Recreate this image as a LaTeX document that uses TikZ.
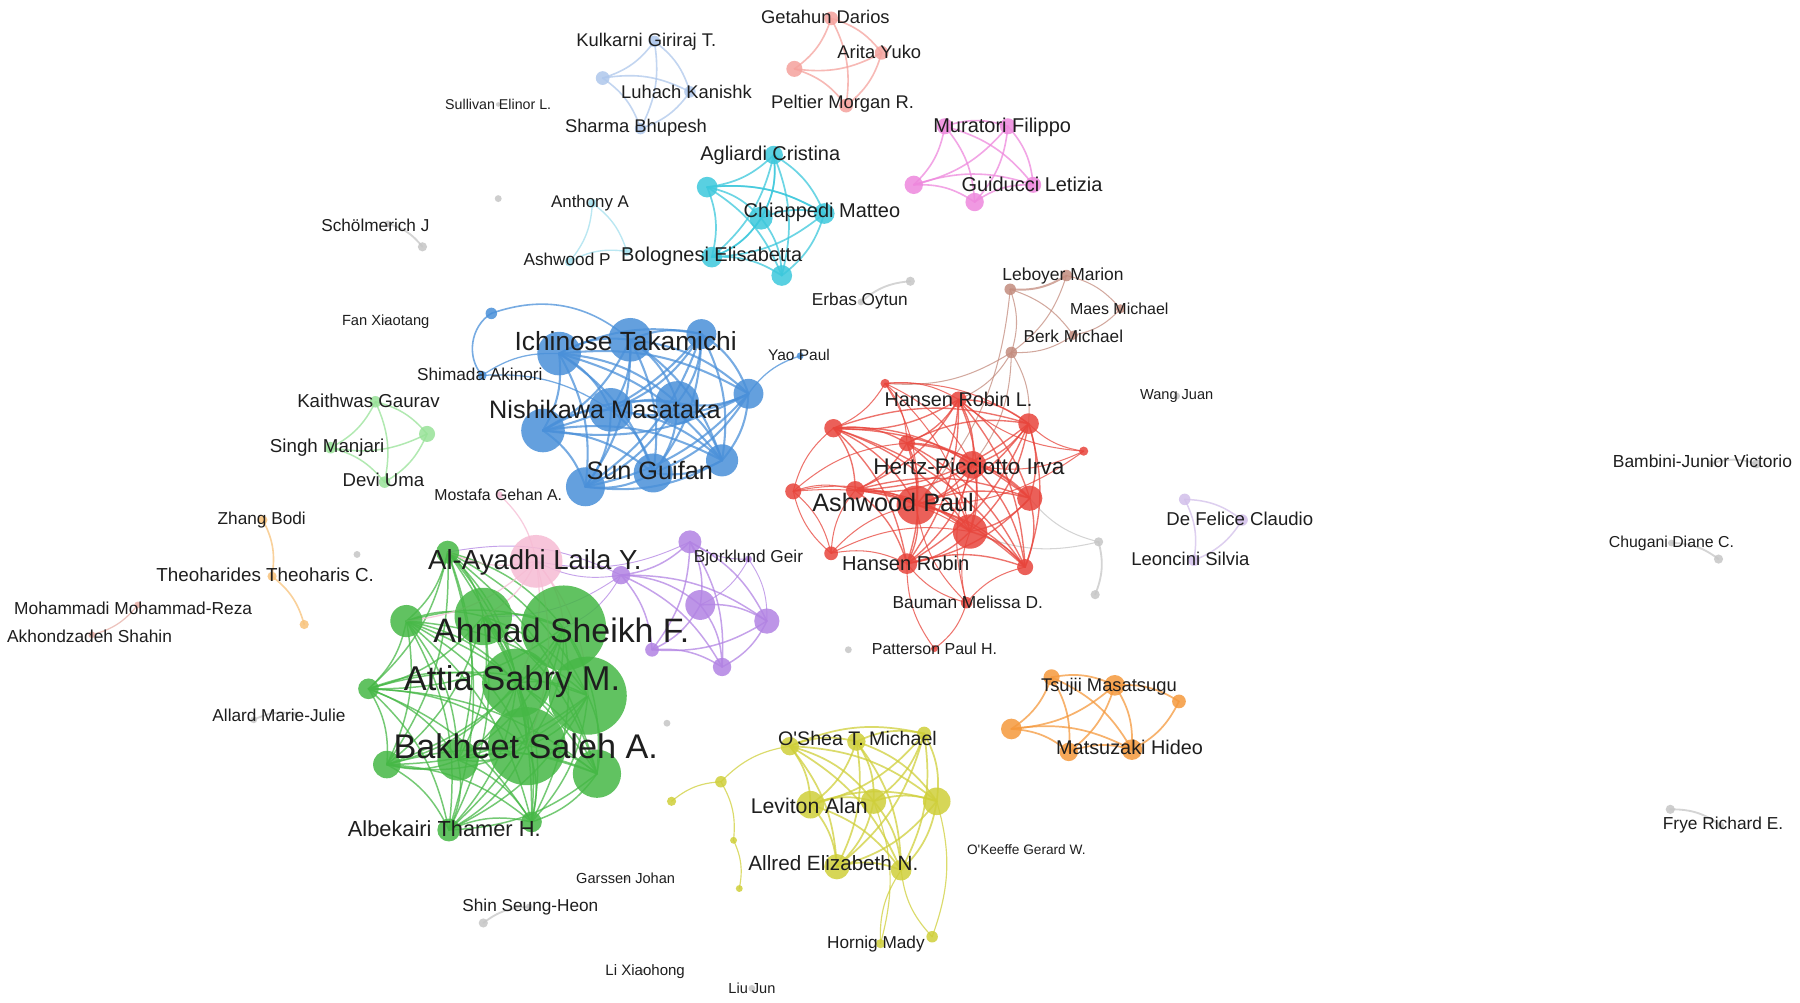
\documentclass[tikz,border=0pt]{standalone}
\usepackage{fontspec}
\newfontfamily\labfont{Liberation Sans}
\pgfdeclarelayer{bg}
\pgfdeclarelayer{edges}
\pgfdeclarelayer{labels}
\pgfsetlayers{bg,edges,main,labels}
\definecolor{cgreen}{HTML}{46B846}
\definecolor{cblue}{HTML}{4A90D9}
\definecolor{cred}{HTML}{E8453C}
\definecolor{ccyan}{HTML}{3CC8DC}
\definecolor{clblue}{HTML}{AEC7EC}
\definecolor{csalmon}{HTML}{F5A29D}
\definecolor{cpink}{HTML}{EE88DD}
\definecolor{cbrown}{HTML}{C38C7E}
\definecolor{cpurple}{HTML}{B283E3}
\definecolor{clpurple}{HTML}{D2BFEA}
\definecolor{cyellow}{HTML}{CFCF3A}
\definecolor{corange}{HTML}{F5993D}
\definecolor{clorange}{HTML}{F8C27A}
\definecolor{clgreen}{HTML}{98E298}
\definecolor{clpink}{HTML}{F6BCD4}
\definecolor{cgray}{HTML}{C6C6C6}
\definecolor{clcyan}{HTML}{A3E0EE}
\definecolor{cmoh}{HTML}{E8B0A8}
\definecolor{textc}{HTML}{1E1E1E}
\tikzset{
  dot/.style 2 args={circle,inner sep=0pt,draw=none,fill=#1,fill opacity=0.85,minimum size=#2*2pt},
  lab/.style={font=\labfont\fontsize{#1}{#1}\selectfont,text=textc,inner sep=0pt},
  ed/.style 2 args={draw=#1,draw opacity=0.75,line width=#2,line cap=round},
}
\newcommand\nd[5]{\node[dot={#2}{#5}] (#1) at (#3,#4) {};}
\newcommand\lb[5]{\node[lab=#4] (#1) at (#2,#3) {#5};}
\newcommand\clique[2]{%
  \foreach \u [count=\iu] in {#2}{%
    \foreach \v [count=\iv] in {#2}{%
      \ifnum\iv>\iu\relax \draw[#1] (\u.center) to[bend left=18] (\v.center);\fi}}}
\newcommand\edgelist[2]{\foreach \u/\v in {#2}{\draw[#1] (\u.center) to[bend left=18] (\v.center);}}
\begin{document}
\begin{tikzpicture}[x=1pt,y=-1pt]
\begin{pgfonlayer}{bg}
\fill[white] (0,0) rectangle (1568,873);
\end{pgfonlayer}
\useasboundingbox (0,0) rectangle (1568,873);

% ---------- salmon
\nd{s1}{csalmon}{724}{16}{6}
\nd{s2}{csalmon}{768}{46}{6}
\nd{s3}{csalmon}{692}{60}{7}
\nd{s4}{csalmon}{737}{92}{6}
% ---------- light blue
\nd{k1}{clblue}{570}{36}{5}
\nd{k2}{clblue}{525}{68}{6}
\nd{k3}{clblue}{601}{80}{5}
\nd{k4}{clblue}{558}{112}{5}
% ---------- cyan
\nd{c1}{ccyan}{674}{135}{8}
\nd{c2}{ccyan}{616}{163}{9}
\nd{c3}{ccyan}{663}{190}{10}
\nd{c4}{ccyan}{718}{186}{9}
\nd{c5}{ccyan}{620}{224}{9}
\nd{c6}{ccyan}{681}{240}{9}
% ---------- light cyan
\nd{a1}{clcyan}{516}{177}{4}
\nd{a2}{clcyan}{496}{228}{4}
\nd{a3}{clcyan}{546}{219}{4}
% ---------- pink (Muratori)
\nd{m1}{cpink}{823}{110}{7}
\nd{m2}{cpink}{878}{110}{7}
\nd{m3}{cpink}{796}{161}{8}
\nd{m4}{cpink}{849}{176}{8}
\nd{m5}{cpink}{900}{161}{7}
% ---------- gray singletons / pairs
\nd{g1}{cgray}{434}{173}{3}
\nd{g2}{cgray}{338}{195}{3}
\nd{g3}{cgray}{368}{215}{4}
\nd{g4}{cgray}{750}{263}{3}
\nd{g5}{cgray}{793}{245}{4}
\nd{g6}{cgray}{434}{91}{2}
\nd{g7}{cgray}{336}{280}{2}
\nd{g8}{cgray}{1025}{345}{3}
\nd{g9}{cgray}{957}{472}{4}
\nd{g10}{cgray}{954}{518}{4}
\nd{g11}{cgray}{739}{566}{3}
\nd{g12}{cgray}{311}{483}{3}
\nd{g13}{cgray}{581}{630}{3}
\nd{g14}{cgray}{1490}{404}{3}
\nd{g15}{cgray}{1530}{404}{4}
\nd{g16}{cgray}{1456}{473}{3}
\nd{g17}{cgray}{1497}{487}{4}
\nd{g18}{cgray}{1455}{705}{4}
\nd{g19}{cgray}{1499}{719}{3}
\nd{g20}{cgray}{421}{804}{4}
\nd{g21}{cgray}{461}{790}{3}
\nd{g22}{cgray}{221}{627}{3}
\nd{g23}{cgray}{258}{622}{2}
\nd{g24}{cgray}{545}{765}{2}
\nd{g25}{cgray}{560}{846}{2}
\nd{g26}{cgray}{655}{861}{3}
\nd{g27}{cgray}{894}{740}{2}
% ---------- brown
\nd{br1}{cbrown}{929}{240}{5}
\nd{br2}{cbrown}{880}{252}{5}
\nd{br3}{cbrown}{976}{269}{4}
\nd{br4}{cbrown}{935}{292}{4}
\nd{br5}{cbrown}{881}{307}{5}
% ---------- red
\nd{r1}{cred}{771}{334}{4}
\nd{r2}{cred}{835}{348}{7}
\nd{r3}{cred}{726}{373}{8}
\nd{r4}{cred}{790}{386}{7}
\nd{r5}{cred}{896}{369}{9}
\nd{r6}{cred}{944}{393}{4}
\nd{r7}{cred}{847}{405}{12}
\nd{r8}{cred}{691}{428}{7}
\nd{r9}{cred}{745}{427}{8}
\nd{r10}{cred}{798}{440}{17}
\nd{r11}{cred}{897}{434}{11}
\nd{r12}{cred}{845}{463}{15}
\nd{r13}{cred}{724}{482}{6}
\nd{r14}{cred}{790}{491}{9}
\nd{r15}{cred}{893}{494}{7}
\nd{r16}{cred}{842}{525}{5}
\nd{r17}{cred}{814}{565}{3}
% ---------- purple (Bjorklund)
\nd{p1}{cpurple}{601}{472}{10}
\nd{p2}{cpurple}{541}{501}{8}
\nd{p3}{cpurple}{610}{527}{13}
\nd{p4}{cpurple}{668}{541}{11}
\nd{p5}{cpurple}{568}{566}{6}
\nd{p6}{cpurple}{629}{581}{8}
\nd{p7}{cpurple}{652}{487}{3}
% ---------- light purple
\nd{d1}{clpurple}{1032}{435}{5}
\nd{d2}{clpurple}{1082}{453}{5}
\nd{d3}{clpurple}{1040}{488}{5}
% ---------- light green
\nd{lg1}{clgreen}{327}{350}{5}
\nd{lg2}{clgreen}{372}{378}{7}
\nd{lg3}{clgreen}{288}{390}{5}
\nd{lg4}{clgreen}{335}{420}{5}
% ---------- light orange
\nd{o1}{clorange}{229}{453}{4}
\nd{o2}{clorange}{237}{502}{4}
\nd{o3}{clorange}{265}{544}{4}
% ---------- Mohammadi pair
\nd{mh1}{cmoh}{120}{527}{3}
\nd{mh2}{cmoh}{80}{553}{3}
% ---------- green
\nd{gr1}{cgreen}{390}{481}{10}
\nd{gr2}{cgreen}{354}{541}{14}
\nd{gr3}{cgreen}{421}{537}{25}
\nd{gr4}{cgreen}{491}{547}{37}
\nd{gr5}{cgreen}{321}{600}{9}
\nd{gr6}{cgreen}{450}{595}{30}
\nd{gr7}{cgreen}{512}{606}{34}
\nd{gr8}{cgreen}{459}{650}{34}
\nd{gr9}{cgreen}{399}{662}{18}
\nd{gr10}{cgreen}{337}{666}{12}
\nd{gr11}{cgreen}{520}{674}{21}
\nd{gr12}{cgreen}{391}{723}{10}
\nd{gr13}{cgreen}{463}{716}{9}
% ---------- pink (Al-Ayadhi)
\nd{pk1}{clpink}{467}{489}{23}
\nd{pk2}{clpink}{435}{431}{3}
% ---------- yellow
\nd{y1}{cyellow}{688}{650}{8}
\nd{y2}{cyellow}{746}{646}{8}
\nd{y3}{cyellow}{805}{639}{6}
\nd{y4}{cyellow}{706}{701}{12}
\nd{y5}{cyellow}{761}{698}{11}
\nd{y6}{cyellow}{816}{698}{12}
\nd{y7}{cyellow}{729}{755}{11}
\nd{y8}{cyellow}{785}{758}{9}
\nd{y9}{cyellow}{812}{816}{5}
\nd{y10}{cyellow}{767}{822}{4}
\nd{y11}{cyellow}{628}{681}{5}
\nd{y12}{cyellow}{639}{732}{3}
\nd{y13}{cyellow}{644}{774}{3}
\nd{y14}{cyellow}{585}{698}{4}
% ---------- orange
\nd{or1}{corange}{916}{590}{7}
\nd{or2}{corange}{971}{597}{9}
\nd{or3}{corange}{1027}{611}{6}
\nd{or4}{corange}{881}{635}{9}
\nd{or5}{corange}{931}{655}{8}
\nd{or6}{corange}{986}{653}{9}
% ---------- blue
\nd{b1}{cblue}{428}{273}{5}
\nd{b2}{cblue}{487}{308}{19}
\nd{b3}{cblue}{549}{296}{19}
\nd{b4}{cblue}{611}{291}{13}
\nd{b5}{cblue}{652}{343}{13}
\nd{b6}{cblue}{697}{310}{3}
\nd{b7}{cblue}{473}{375}{19}
\nd{b8}{cblue}{532}{357}{19}
\nd{b9}{cblue}{590}{351}{19}
\nd{b10}{cblue}{629}{401}{14}
\nd{b11}{cblue}{569}{412}{17}
\nd{b12}{cblue}{510}{424}{17}
\nd{b13}{cblue}{420}{327}{4}

% ================= edges
\begin{pgfonlayer}{edges}
\clique{ed={csalmon}{1.4pt}}{s1,s2,s3,s4}
\clique{ed={clblue}{1.4pt}}{k1,k2,k3,k4}
\clique{ed={ccyan}{1.5pt}}{c1,c2,c3,c4,c5,c6}
\edgelist{ed={ccyan}{1.3pt}}{c2/c4,c3/c5,c1/c3}
\clique{ed={clcyan}{1.2pt}}{a1,a2,a3}
\clique{ed={cpink}{1.4pt}}{m1,m2,m3,m4,m5}
\edgelist{ed={cgray}{1.6pt}}{g2/g3,g4/g5,g9/g10,g14/g15,g16/g17,g18/g19,g20/g21,g22/g23}
\edgelist{ed={cgray}{0.9pt}}{g9/r12,g9/r11}
\edgelist{ed={cbrown}{1.7pt}}{br1/br2}
\edgelist{ed={cbrown}{0.9pt}}{br1/br3,br3/br4,br2/br4,br2/br5,br4/br5,br1/br5,br5/r1,br5/r2,br5/r5,br5/r7,br2/r10}
\clique{ed={cred}{1.2pt}}{r2,r3,r4,r5,r7,r9,r10,r11,r12,r14,r15}
\edgelist{ed={cred}{0.9pt}}{r1/r2,r1/r3,r1/r4,r1/r7,r1/r10,r1/r12,r1/r5,r6/r5,r6/r7,r6/r2,r6/r10,r8/r3,r8/r9,r8/r10,r8/r13,r8/r12,r8/r4,r13/r8,r13/r10,r13/r14,r13/r12,r13/r9,r16/r10,r16/r12,r16/r14,r16/r7,r16/r15,r16/r17,r17/r14}
\clique{ed={cpurple}{1.3pt}}{p1,p2,p3,p4,p5,p6}
\edgelist{ed={cpurple}{0.8pt}}{p7/p3,p7/p4,p7/p1,p2/pk1,p2/gr3,p2/gr4,p1/pk1,gr1/p2}
\clique{ed={clpurple}{1.3pt}}{d1,d2,d3}
\clique{ed={clgreen}{1.3pt}}{lg1,lg2,lg3,lg4}
\edgelist{ed={clorange}{1.4pt}}{o1/o2,o2/o3}
\edgelist{ed={cmoh}{1.1pt}}{mh1/mh2}
\clique{ed={cgreen}{1.3pt}}{gr1,gr2,gr3,gr4,gr5,gr6,gr7,gr8,gr9,gr10,gr11,gr12,gr13}
\edgelist{ed={clpink}{1.1pt}}{pk1/gr1,pk1/gr2,pk1/gr3,pk1/gr4,pk1/gr6,pk1/gr7,pk1/gr8,pk2/pk1}
\clique{ed={cyellow}{1.5pt}}{y1,y2,y3,y4,y5,y6,y7,y8}
\edgelist{ed={cyellow}{1.0pt}}{y9/y8,y6/y9,y10/y8,y5/y10,y11/y1,y14/y11,y11/y12,y12/y13}
\clique{ed={corange}{1.5pt}}{or1,or2,or4,or5,or6}
\edgelist{ed={corange}{1.5pt}}{or2/or3,or3/or6}
\clique{ed={cblue}{1.8pt}}{b2,b3,b4,b5,b7,b8,b9,b10,b11,b12}
\draw[ed={cblue}{1.4pt}] (b1.center) to[bend left=30] (b3.center);
\draw[ed={cblue}{1.4pt}] (b1.center) to[bend right=50] (b13.center);
\edgelist{ed={cblue}{1.1pt}}{b13/b2,b13/b8,b5/b6}
\end{pgfonlayer}

% ================= labels
\begin{pgfonlayer}{labels}
\lb{L1}{719}{15}{16}{Getahun Darios}
\lb{L2}{766}{45}{16}{Arita Yuko}
\lb{L3}{734}{90}{16}{Peltier Morgan R.}
\lb{L4}{563}{36}{16}{Kulkarni Giriraj T.}
\lb{L5}{598}{80}{16}{Luhach Kanishk}
\lb{L6}{554}{111}{16}{Sharma Bhupesh}
\lb{L7}{434}{91}{12.4}{Sullivan Elinor L.}
\lb{L8}{671}{135}{17.4}{Agliardi Cristina}
\lb{L9}{873}{111}{17.4}{Muratori Filippo}
\lb{L10}{899}{161}{17.4}{Guiducci Letizia}
\lb{L11}{716}{185}{17.4}{Chiappedi Matteo}
\lb{L12}{514}{177}{14.7}{Anthony A}
\lb{L13}{327}{196}{15}{Schölmerich J}
\lb{L14}{494}{226}{15}{Ashwood P}
\lb{L15}{620}{223}{17.4}{Bolognesi Elisabetta}
\lb{L16}{749}{262}{15}{Erbas Oytun}
\lb{L17}{926}{240}{15.2}{Leboyer Marion}
\lb{L18}{975}{269}{13.9}{Maes Michael}
\lb{L19}{935}{293}{15}{Berk Michael}
\lb{L20}{336}{280}{12.8}{Fan Xiaotang}
\lb{L21}{545}{297}{22.9}{Ichinose Takamichi}
\lb{L22}{418}{326}{15}{Shimada Akinori}
\lb{L23}{696}{309}{13.5}{Yao Paul}
\lb{L24}{527}{357}{22}{Nishikawa Masataka}
\lb{L25}{566}{410}{22}{Sun Guifan}
\lb{L26}{321}{349}{16.3}{Kaithwas Gaurav}
\lb{L27}{285}{390}{16.3}{Singh Manjari}
\lb{L28}{334}{418}{16.2}{Devi Uma}
\lb{L29}{434}{431}{13.8}{Mostafa Gehan A.}
\lb{L30}{835}{348}{17.3}{Hansen Robin L.}
\lb{L31}{1025}{345}{12.7}{Wang Juan}
\lb{L32}{844}{406}{19.7}{Hertz-Picciotto Irva}
\lb{L33}{778}{438}{22}{Ashwood Paul}
\lb{L34}{789}{491}{17.5}{Hansen Robin}
\lb{L35}{843}{525}{15.1}{Bauman Melissa D.}
\lb{L36}{814}{565}{13.9}{Patterson Paul H.}
\lb{L37}{1080}{452}{16.2}{De Felice Claudio}
\lb{L38}{1037}{487}{16.1}{Leoncini Silvia}
\lb{L39}{1483}{402}{15.2}{Bambini-Junior Victorio}
\lb{L40}{1456}{473}{13.8}{Chugani Diane C.}
\lb{L41}{1501}{719}{15.1}{Frye Richard E.}
\lb{L42}{228}{453}{15}{Zhang Bodi}
\lb{L43}{231}{501}{16.4}{Theoharides Theoharis C.}
\lb{L44}{116}{530}{15.1}{Mohammadi Mohammad-Reza}
\lb{L45}{78}{554}{15.1}{Akhondzadeh Shahin}
\lb{L46}{466}{490}{24}{Al-Ayadhi Laila Y.}
\lb{L47}{652}{486}{15}{Bjorklund Geir}
\lb{L48}{489}{549}{29.5}{Ahmad Sheikh F.}
\lb{L49}{446}{594}{30}{Attia Sabry M.}
\lb{L50}{458}{650}{29.8}{Bakheet Saleh A.}
\lb{L51}{243}{623}{15}{Allard Marie-Julie}
\lb{L52}{387}{722}{19}{Albekairi Thamer H.}
\lb{L53}{747}{643}{17.1}{O'Shea T. Michael}
\lb{L54}{966}{598}{16}{Tsujii Masatsugu}
\lb{L55}{984}{651}{17.3}{Matsuzaki Hideo}
\lb{L56}{705}{702}{18.5}{Leviton Alan}
\lb{L57}{726}{752}{18}{Allred Elizabeth N.}
\lb{L58}{894}{740}{11.9}{O'Keeffe Gerard W.}
\lb{L59}{545}{765}{12.7}{Garssen Johan}
\lb{L60}{462}{790}{15}{Shin Seung-Heon}
\lb{L61}{763}{822}{15}{Hornig Mady}
\lb{L62}{562}{846}{13.1}{Li Xiaohong}
\lb{L63}{655}{861}{12.7}{Liu Jun}
\end{pgfonlayer}
\end{tikzpicture}
\end{document}
